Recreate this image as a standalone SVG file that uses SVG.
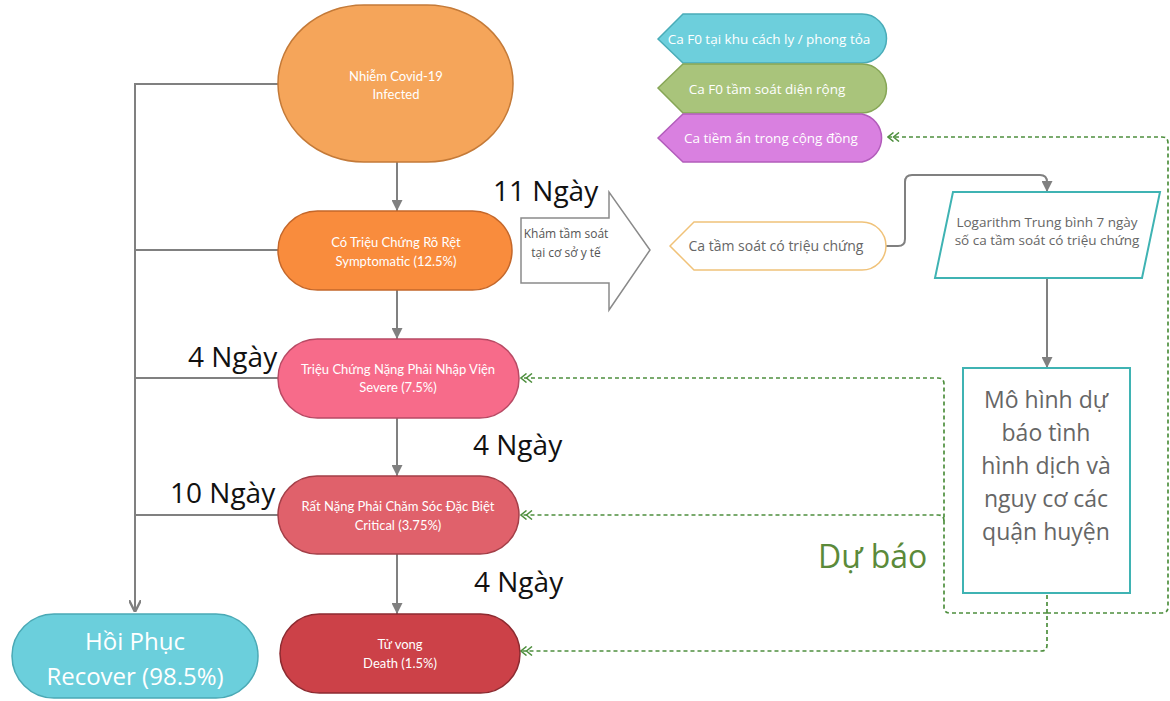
<svg xmlns="http://www.w3.org/2000/svg" width="1170" height="701" viewBox="0 0 1170 701">
<style>
.nt{font-family:"Lato","Open Sans",sans-serif;font-size:13px;fill:#ffffff;text-anchor:middle}
.st{font-family:"Open Sans","Noto Sans",sans-serif;font-size:13.5px;fill:#ffffff;text-anchor:middle}
.gt{font-family:"Open Sans","Noto Sans",sans-serif;fill:#666666;text-anchor:middle}
.day{font-family:"Open Sans","Noto Sans",sans-serif;font-size:28px;fill:#111111}
.gl{fill:none;stroke:#808080;stroke-width:2}
.dl{fill:none;stroke:#4e8f3e;stroke-width:1.7;stroke-dasharray:4 3}
</style>
<defs>
<marker id="ga" viewBox="0 0 10 10" refX="10" refY="5" markerWidth="12" markerHeight="11" markerUnits="userSpaceOnUse" orient="auto"><path d="M0,0 L10,5 L0,10 z" fill="#808080"/></marker>
<marker id="gv" viewBox="0 0 10 10" refX="10" refY="5" markerWidth="12" markerHeight="12" markerUnits="userSpaceOnUse" orient="auto"><path d="M0,0 L10,5 L0,10" fill="none" stroke="#808080" stroke-width="2"/></marker>
<marker id="da" viewBox="0 0 13 10" refX="12" refY="5" markerWidth="13" markerHeight="10" markerUnits="userSpaceOnUse" orient="auto"><path d="M1,0.5 L6.5,5 L1,9.5 M6.5,0.5 L12,5 L6.5,9.5" fill="none" stroke="#4e8f3e" stroke-width="1.5"/></marker>
</defs>
<g id="connectors">
<path class="gl" d="M278,84 H135 V612" marker-end="url(#gv)"/>
<path class="gl" d="M278,250 H135"/>
<path class="gl" d="M278,378 H135"/>
<path class="gl" d="M278,515 H135"/>
<path class="gl" d="M397,162 V211" marker-end="url(#ga)"/>
<path class="gl" d="M397,290 V339" marker-end="url(#ga)"/>
<path class="gl" d="M397,418 V476" marker-end="url(#ga)"/>
<path class="gl" d="M397,554 V614" marker-end="url(#ga)"/>
<path class="gl" d="M886,246 H898 Q905,246 905,239 V182 Q905,175 912,175 H1040 Q1047,175 1047,182 V192" marker-end="url(#ga)"/>
<path class="gl" d="M1047,278 V368" marker-end="url(#ga)"/>
<path class="dl" d="M1047,595 V645 Q1047,651 1041,651 H521" marker-end="url(#da)"/>
<path class="dl" d="M1047,613 H950 Q944,613 944,607 V384 Q944,378 938,378 H521" marker-end="url(#da)"/>
<path class="dl" d="M944,521 Q944,515 938,515 H521" marker-end="url(#da)"/>
<path class="dl" d="M1047,613 H1162 Q1168,613 1168,607 V143 Q1168,137 1162,137 H888" marker-end="url(#da)"/>
</g>
<g id="infected">
<rect x="278" y="5" width="235" height="157" rx="86" ry="78" fill="#f5a55a" stroke="#c47a38" stroke-width="1.5"/>
<text class="nt" x="396" y="81">Nhiễm Covid-19</text>
<text class="nt" x="396" y="99">Infected</text>
</g>
<g id="symptomatic">
<rect x="278" y="211" width="234" height="79" rx="39.5" fill="#f98c3d" stroke="#c4672a" stroke-width="1.5"/>
<text class="nt" x="396" y="247">Có Triệu Chứng Rõ Rệt</text>
<text class="nt" x="396" y="266">Symptomatic (12.5%)</text>
</g>
<g id="severe">
<rect x="278" y="339" width="241" height="79" rx="39.5" fill="#f76b8a" stroke="#b84a64" stroke-width="1.5"/>
<text class="nt" x="398" y="374">Triệu Chứng Nặng Phải Nhập Viện</text>
<text class="nt" x="398" y="392">Severe (7.5%)</text>
</g>
<g id="critical">
<rect x="278" y="476" width="241" height="78" rx="39" fill="#e0616b" stroke="#a33f48" stroke-width="1.5"/>
<text class="nt" x="398" y="511">Rất Nặng Phải Chăm Sóc Đặc Biệt</text>
<text class="nt" x="398" y="530">Critical (3.75%)</text>
</g>
<g id="death">
<rect x="280" y="614" width="240" height="79" rx="39.5" fill="#cc4148" stroke="#8c2a30" stroke-width="1.5"/>
<text class="nt" x="400" y="649">Tử vong</text>
<text class="nt" x="400" y="668">Death (1.5%)</text>
</g>
<g id="recover">
<rect x="12" y="614" width="246" height="84" rx="42" fill="#6bcfdc" stroke="#4aa9b5" stroke-width="1.5"/>
<text class="gt" x="135" y="650" style="font-size:24px;fill:#ffffff">Hồi Phục</text>
<text class="gt" x="135" y="685" style="font-size:24px;fill:#ffffff">Recover (98.5%)</text>
</g>
<g id="screening-arrow">
<path d="M521,218 H609 V192 L650,250 L609,310 V283 H521 Z" fill="#ffffff" stroke="#8a8a8a" stroke-width="1.5"/>
<text class="gt" x="566" y="238" style="font-size:12px;fill:#555555">Khám tầm soát</text>
<text class="gt" x="566" y="257" style="font-size:12px;fill:#555555">tại cơ sở y tế</text>
</g>
<g id="symptom-screening">
<path d="M670,246 L694,222 H862 A24,24 0 0 1 862,270 H694 Z" fill="#ffffff" stroke="#f0c279" stroke-width="1.5"/>
<text class="gt" x="776" y="251" style="font-size:14px">Ca tầm soát có triệu chứng</text>
</g>
<g id="f0-quarantine">
<path d="M658,39 L683,14 H862 A24.5,24.5 0 0 1 862,63 H683 Z" fill="#6dcfdc" stroke="#4aacb8" stroke-width="1.5"/>
<text class="st" x="769" y="44">Ca F0 tại khu cách ly / phong tỏa</text>
</g>
<g id="f0-screening">
<path d="M658,88 L683,64 H862 A24.5,24.5 0 0 1 862,113 H683 Z" fill="#a9c47b" stroke="#86a656" stroke-width="1.5"/>
<text class="st" x="767" y="94">Ca F0 tầm soát diện rộng</text>
</g>
<g id="community">
<path d="M658,138 L683,114 H862 A24.5,24.5 0 0 1 862,162 H683 Z" fill="#d980e0" stroke="#b25cbb" stroke-width="1.5"/>
<text class="st" x="771" y="143">Ca tiềm ẩn trong cộng đồng</text>
</g>
<g id="logarithm">
<path d="M953,192 H1160 L1142,278 H935 Z" fill="#ffffff" stroke="#3fb3b3" stroke-width="2"/>
<text class="gt" x="1047" y="227" style="font-size:13.5px">Logarithm Trung bình 7 ngày</text>
<text class="gt" x="1047" y="245" style="font-size:13.5px">số ca tầm soát có triệu chứng</text>
</g>
<g id="model">
<rect x="963" y="368" width="167" height="225" fill="#ffffff" stroke="#3fb3b3" stroke-width="2"/>
<text class="gt" x="1046" y="408" style="font-size:23px">Mô hình dự</text>
<text class="gt" x="1046" y="441" style="font-size:23px">báo tình</text>
<text class="gt" x="1046" y="474" style="font-size:23px">hình dịch và</text>
<text class="gt" x="1046" y="507" style="font-size:23px">nguy cơ các</text>
<text class="gt" x="1046" y="540" style="font-size:23px">quận huyện</text>
</g>
<g id="labels">
<text class="day" x="493" y="201">11 Ngày</text>
<text class="day" x="188" y="367">4 Ngày</text>
<text class="day" x="473" y="455">4 Ngày</text>
<text class="day" x="170" y="503">10 Ngày</text>
<text class="day" x="474" y="592">4 Ngày</text>
<text x="818" y="568" style="font-family:'Open Sans','Noto Sans',sans-serif;font-size:32px;fill:#5b8a3a">Dự báo</text>
</g>
</svg>
